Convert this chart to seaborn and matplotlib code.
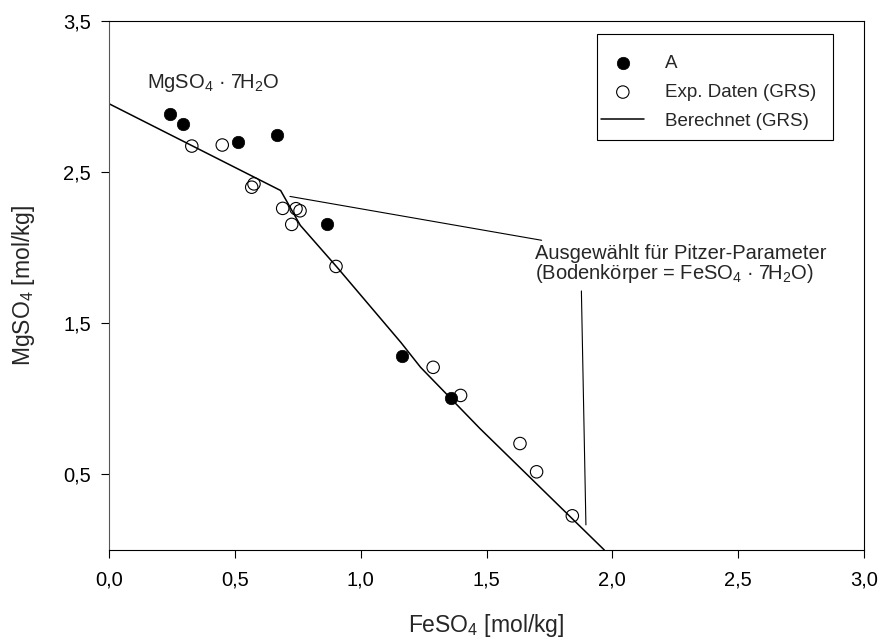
import matplotlib
matplotlib.use("Agg")
import matplotlib.pyplot as plt
from matplotlib.patches import Rectangle
from matplotlib.ticker import FixedLocator, FuncFormatter
import seaborn as sns
import pandas as pd

# ---- data ----
a_fe = [0.241, 0.293, 0.514, 0.667, 0.867, 1.163, 1.358]
a_mg = [2.883, 2.816, 2.697, 2.741, 2.155, 1.285, 1.007]

exp_fe = [0.329, 0.450, 0.567, 0.576, 0.690, 0.726, 0.743, 0.759, 0.902,
          1.288, 1.397, 1.633, 1.699, 1.841]
exp_mg = [2.671, 2.678, 2.399, 2.421, 2.259, 2.153, 2.257, 2.243, 1.875,
          1.208, 1.022, 0.704, 0.517, 0.226]

calc_fe = [0.0, 0.682, 0.760, 0.905, 1.160, 1.238, 1.474, 1.968]
calc_mg = [2.951, 2.377, 2.147, 1.872, 1.372, 1.208, 0.803, 0.0]

x_ticks = [0.0, 0.5, 1.0, 1.5, 2.0, 2.5, 3.0]
y_ticks = [0.5, 1.5, 2.5, 3.5]

label_a = "A"
label_exp = "Exp. Daten (GRS)"
label_calc = "Berechnet (GRS)"
x_label = r"FeSO$\mathregular{_4}$ [mol/kg]"
y_label = r"MgSO$\mathregular{_4}$ [mol/kg]"
note_mg = r"MgSO$\mathregular{_4}$ · 7H$\mathregular{_2}$O"
note_sel1 = "Ausgewählt für Pitzer-Parameter"
note_sel2 = r"(Bodenkörper = FeSO$\mathregular{_4}$ · 7H$\mathregular{_2}$O)"

df_a = pd.DataFrame({"fe": a_fe, "mg": a_mg})
df_exp = pd.DataFrame({"fe": exp_fe, "mg": exp_mg})
df_calc = pd.DataFrame({"fe": calc_fe, "mg": calc_mg})

# ---- style ----
sns.set_style("ticks")
plt.rcParams["font.family"] = ["Liberation Sans", "DejaVu Sans"]
plt.rcParams["mathtext.fontset"] = "custom"
plt.rcParams["mathtext.rm"] = "Liberation Sans"
plt.rcParams["mathtext.it"] = "Liberation Sans:italic"
plt.rcParams["mathtext.bf"] = "Liberation Sans:bold"

fig = plt.figure(figsize=(8.82, 6.39), dpi=100)
ax = fig.add_axes([0.1236, 0.1393, 0.856, 0.8283])

sns.lineplot(data=df_calc, x="fe", y="mg", sort=False, color="black",
             linewidth=1.1, ax=ax, label=label_calc, zorder=2)
sns.scatterplot(data=df_a, x="fe", y="mg", color="black", edgecolor="black",
                s=80, linewidth=0.5, ax=ax, label=label_a, zorder=3)
sns.scatterplot(data=df_exp, x="fe", y="mg", facecolor="none", edgecolor="black",
                s=80, linewidth=0.8, ax=ax, label=label_exp, zorder=3)

ax.set_xlim(0, 3.0)
ax.set_ylim(0, 3.5)
ax.xaxis.set_major_locator(FixedLocator(x_ticks))
ax.yaxis.set_major_locator(FixedLocator(y_ticks))
fmt = FuncFormatter(lambda v, p: f"{v:.1f}".replace(".", ","))
ax.xaxis.set_major_formatter(fmt)
ax.yaxis.set_major_formatter(fmt)
ax.tick_params(axis="both", direction="out", length=6, width=0.8,
               labelsize=14.5, colors="black")
ax.tick_params(axis="x", pad=9)
ax.tick_params(axis="y", pad=7)

for side in ["top", "right", "bottom", "left"]:
    ax.spines[side].set_visible(True)
    ax.spines[side].set_linewidth(0.8)
    ax.spines[side].set_color("black")
ax.spines["left"].set_color("#555555")

ax.set_xlabel(x_label, fontsize=16.5, labelpad=16)
ax.set_ylabel(y_label, fontsize=16.5, labelpad=19)

# annotations
ax.text(0.150, 3.055, note_mg, fontsize=14.5, ha="left", va="baseline")
ax.text(1.692, 1.921, note_sel1, fontsize=14.5, ha="left", va="baseline")
ax.text(1.692, 1.789, note_sel2, fontsize=14.5, ha="left", va="baseline")
ax.plot([0.719, 1.719], [2.338, 2.048], color="black", linewidth=0.8)
ax.plot([1.877, 1.895], [1.713, 0.166], color="black", linewidth=0.8)

# legend
handles, labels = ax.get_legend_handles_labels()
order = [labels.index(label_a), labels.index(label_exp), labels.index(label_calc)]
leg = ax.legend([handles[i] for i in order], [labels[i] for i in order],
                loc="upper left", bbox_to_anchor=(0.652, 0.935),
                frameon=False, fontsize=13.5, handlelength=2.3,
                handletextpad=1.1, labelspacing=0.62, borderpad=0,
                borderaxespad=0)
ax.add_patch(Rectangle((0.646, 0.775), 0.313, 0.199, transform=ax.transAxes,
                       fill=False, edgecolor="black", linewidth=0.8, zorder=5))

fig.savefig("out.png", dpi=100)
